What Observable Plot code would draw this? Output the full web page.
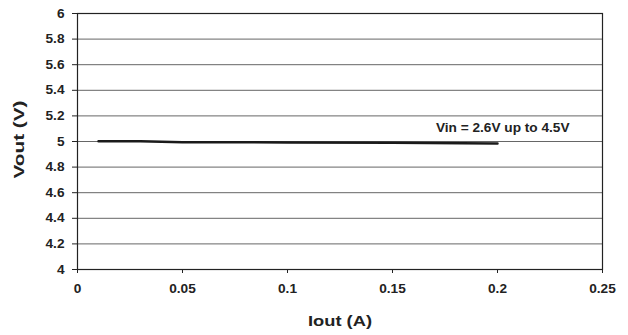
<!DOCTYPE html>
<html>
<head>
<meta charset="utf-8">
<script src="https://cdn.jsdelivr.net/npm/d3@7"></script>
<script src="https://cdn.jsdelivr.net/npm/@observablehq/plot@0.6"></script>
<style>
  html, body { margin: 0; padding: 0; background: #fff; }
  svg { font-family: "Liberation Sans", Arial, sans-serif; }
</style>
</head>
<body>
<div id="chart"></div>
<script>
const iout = [0.01, 0.03, 0.05, 0.1, 0.15, 0.2];
const vout = [5.002, 5.002, 4.995, 4.993, 4.99, 4.985];
const xTicks = [0, 0.05, 0.1, 0.15, 0.2, 0.25];
const yTicks = [4, 4.2, 4.4, 4.6, 4.8, 5, 5.2, 5.4, 5.6, 5.8, 6];
const seriesLabel = "Vin = 2.6V up to 4.5V";
const xTitle = "Iout (A)";
const yTitle = "Vout (V)";

const data = iout.map((x, i) => ({x, y: vout[i]}));

const chart = Plot.plot({
  width: 628,
  height: 335,
  marginLeft: 77,
  marginRight: 26,
  marginTop: 13,
  marginBottom: 66,
  style: {fontFamily: "'Liberation Sans', Arial, sans-serif", background: "#fff"},
  x: {domain: [0, 0.25]},
  y: {domain: [4, 6]},
  marks: [
    Plot.ruleY(yTicks, {stroke: "#666", strokeWidth: 1}),
    Plot.frame({stroke: "#222", strokeWidth: 1.2}),
    Plot.axisX({ticks: xTicks, tickFormat: d => String(d), tickSize: 4, tickPadding: 10, fontSize: 13, fontWeight: "bold", fill: "#222", stroke: "#222", label: null}),
    Plot.axisY({ticks: yTicks, tickFormat: d => String(d), tickSize: 5, tickPadding: 8, fontSize: 13, fontWeight: "bold", fill: "#222", stroke: "#222", label: null}),
    Plot.line(data, {x: "x", y: "y", stroke: "#1a1a1a", strokeWidth: 2.5}),
    Plot.text([seriesLabel], {x: 0.2343, y: 5.11, text: d => d, textAnchor: "end", fontSize: 13, fontWeight: "bold", fill: "#222"}),
    Plot.text([xTitle], {frameAnchor: "bottom", dy: 56, text: d => d, fontSize: 15, fontWeight: "bold", fill: "#222"}),
    Plot.text([yTitle], {frameAnchor: "left", textAnchor: "middle", lineAnchor: "middle", dx: -58, dy: -2, rotate: -90, text: d => d, fontSize: 15, fontWeight: "bold", fill: "#222"})
  ]
});
document.getElementById("chart").appendChild(chart);

// The reference typeface is set wider than Arial: widen glyphs along the text,
// then move each label back so it keeps the anchor point Plot gave it.
const targets = {[xTitle]: 64, [yTitle]: 78};
chart.querySelectorAll("text").forEach(t => {
  const len = t.getComputedTextLength();
  if (!len) return;
  const r0 = t.getBoundingClientRect();
  const anchor = getComputedStyle(t).textAnchor;
  const txt = t.textContent;
  const target = targets[txt] != null ? targets[txt] : len * 1.05;
  t.setAttribute("textLength", target.toFixed(1));
  t.setAttribute("lengthAdjust", "spacingAndGlyphs");
  const r1 = t.getBoundingClientRect();
  let sx, sy;
  if (anchor === "end") { sx = r0.right - r1.right; sy = 0; }
  else if (anchor === "start") { sx = r0.left - r1.left; sy = 0; }
  else {
    sx = (r0.left + r0.right) / 2 - (r1.left + r1.right) / 2;
    sy = (r0.top + r0.bottom) / 2 - (r1.top + r1.bottom) / 2;
  }
  if (Math.abs(sx) > 0.05 || Math.abs(sy) > 0.05) {
    const tr = t.getAttribute("transform") || "";
    t.setAttribute("transform", `translate(${sx.toFixed(2)},${sy.toFixed(2)}) ${tr}`.trim());
  }
});
</script>
</body>
</html>
